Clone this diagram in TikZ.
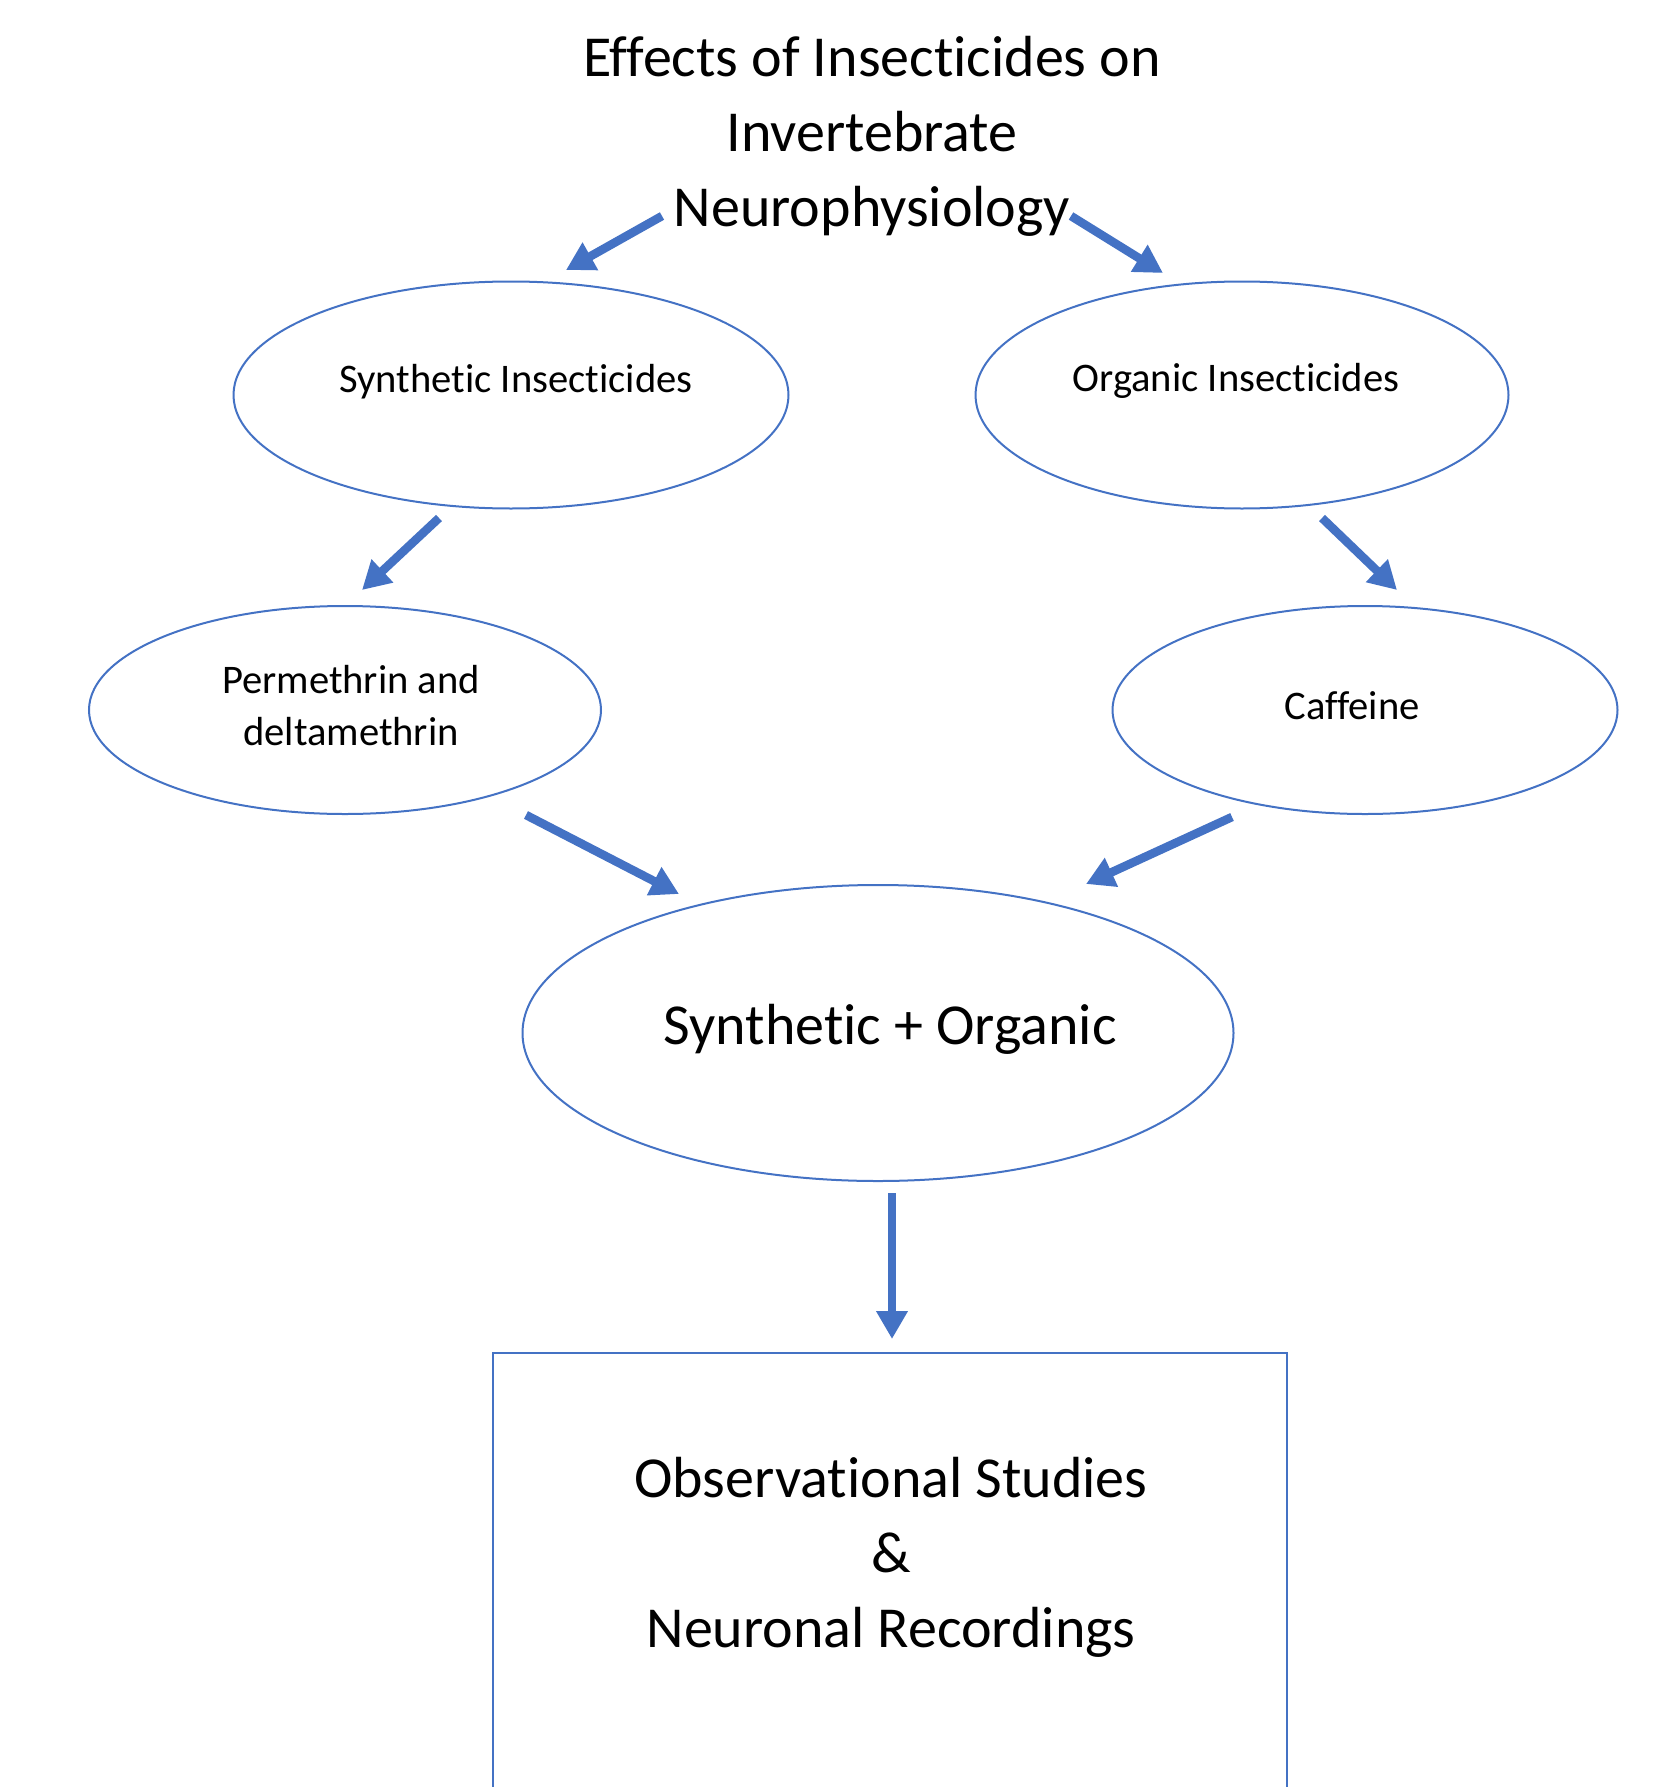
\documentclass[tikz,border=0pt]{standalone}
\usepackage{fontspec}
\setmainfont{Carlito}[Ligatures=NoCommon]
\usepackage{tikz}
\usetikzlibrary{shapes.geometric,arrows.meta}
\definecolor{officeblue}{HTML}{4472C4}

\begin{document}
\begin{tikzpicture}[x=0.5pt, y=-0.5pt,
  oval/.style={draw=officeblue, line width=1pt, ellipse, inner sep=0pt},
  fat/.style={officeblue, line width=4.3pt, -{Triangle[width=15pt,length=14pt]}},
  bigtext/.style={font=\fontsize{29}{37.5}\selectfont, align=center},
  smalltext/.style={font=\fontsize{20.3}{26}\selectfont, align=center}]
 \useasboundingbox (0,0) rectangle (1660,1787);
 \clip (0,0) rectangle (1660,1787);
 \node[bigtext] (title) at (872,136) {Effects of Insecticides on\\Invertebrate\\Neurophysiology};
 \node[oval, minimum width=277.5pt, minimum height=113.5pt] (syn) at (511,395) {};
 \node[smalltext] (syntxt) at (516,382) {Synthetic Insecticides};
 \node[oval, minimum width=266.5pt, minimum height=113.5pt] (org) at (1242,395) {};
 \node[smalltext] (orgtxt) at (1236,381) {Organic Insecticides};
 \node[oval, minimum width=256pt, minimum height=104pt] (perm) at (345,710) {};
 \node[smalltext] (permtxt) at (351,706) {Permethrin and\\deltamethrin};
 \node[oval, minimum width=252.5pt, minimum height=104pt] (caf) at (1365,710) {};
 \node[smalltext] (caftxt) at (1352,706) {Caffeine};
 \node[oval, minimum width=355.5pt, minimum height=148pt] (both) at (878,1033) {};
 \node[bigtext] (bothtxt) at (890,1029) {Synthetic + Organic};
 \draw[officeblue, line width=1pt] (493,1353) rectangle (1287,1900);
 \node[bigtext] (obs) at (891,1557) {Observational Studies\\\&\\Neuronal Recordings};
 % arrow ends
 \coordinate (t1) at (662,216); \coordinate (h1) at (566,270);
 \coordinate (t2) at (1071,216); \coordinate (h2) at (1163,273);
 \coordinate (t3) at (439,518); \coordinate (h3) at (362,590);
 \coordinate (t4) at (1322,518); \coordinate (h4) at (1397,590);
 \coordinate (t5) at (526,815); \coordinate (h5) at (679,894);
 \coordinate (t6) at (1232,817); \coordinate (h6) at (1086,884);
 \coordinate (t7) at (892,1193); \coordinate (h7) at (892,1339);
 \foreach \i in {1,...,7}
  \draw[fat] (t\i) -- (h\i);
\end{tikzpicture}
\end{document}
